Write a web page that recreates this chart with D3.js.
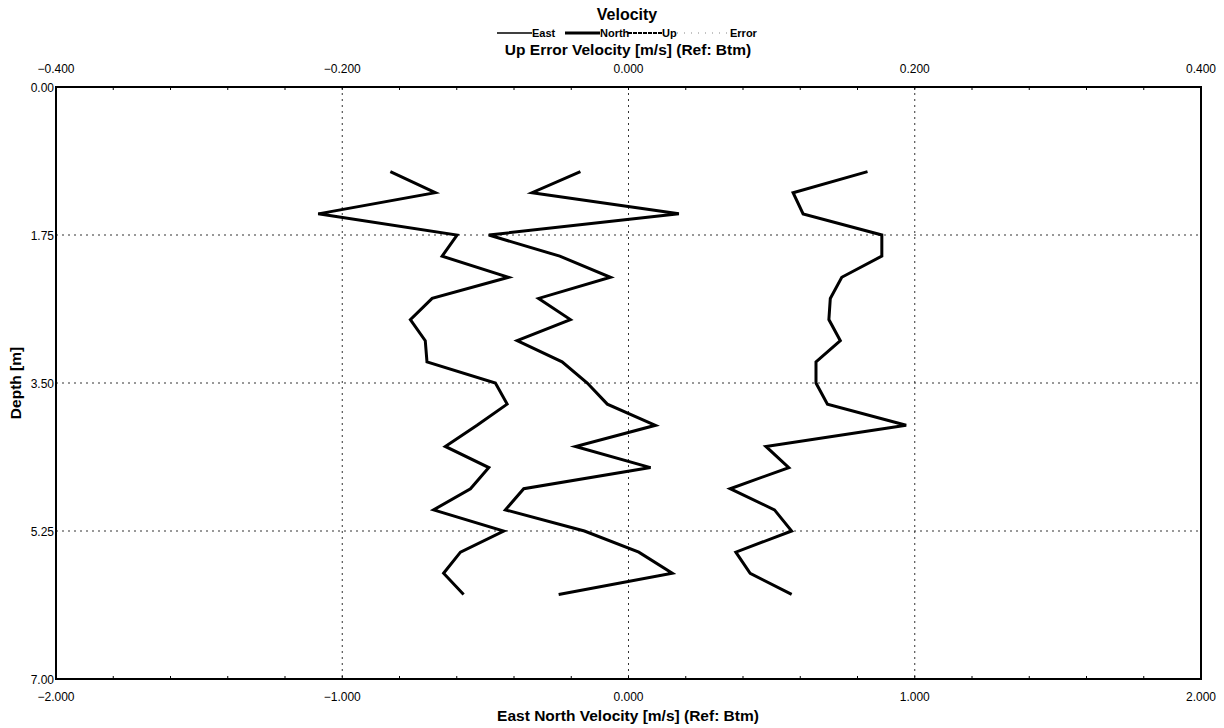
<!DOCTYPE html>
<html>
<head>
  <meta charset="utf-8">
  <title>Velocity profile</title>
  <script src="https://d3js.org/d3.v7.min.js"></script>
  <style>
    body { margin: 0; background: #fff; }
    text { font-family: "Liberation Sans", Arial, sans-serif; fill: #000; }
  </style>
</head>
<body>
  <svg width="1224" height="728"></svg>
  <script>
    // depth bins (m)
    const depths = [1.00, 1.25, 1.50, 1.75, 2.00, 2.25, 2.50, 2.75, 3.00, 3.25, 3.50,
                    3.75, 4.00, 4.25, 4.50, 4.75, 5.00, 5.25, 5.50, 5.75, 6.00];
    // East / North in m/s on bottom axis
    const east = [-0.832, -0.675, -1.084, -0.599, -0.651, -0.419, -0.686, -0.762, -0.710, -0.704, -0.465,
                  -0.424, -0.529, -0.640, -0.488, -0.552, -0.681, -0.436, -0.587, -0.646, -0.576];
    const north = [-0.168, -0.337, 0.176, -0.488, -0.240, -0.063, -0.314, -0.203, -0.389, -0.232, -0.144,
                   -0.074, 0.094, -0.185, 0.077, -0.366, -0.430, -0.154, 0.036, 0.153, -0.244];
    // Up in m/s on top axis
    const up = [0.167, 0.115, 0.122, 0.177, 0.177, 0.149, 0.141, 0.140, 0.148, 0.131, 0.131,
                0.139, 0.194, 0.096, 0.112, 0.071, 0.102, 0.114, 0.075, 0.085, 0.114];

    const bottomTicks = [-2, -1, 0, 1, 2];
    const topTicks = [-0.4, -0.2, 0, 0.2, 0.4];
    const depthTicks = [0, 1.75, 3.5, 5.25, 7];

    const legendItems = [
      { name: "East", width: 1.5, dash: null, color: "#000" },
      { name: "North", width: 3, dash: null, color: "#000" },
      { name: "Up", width: 2, dash: "4,1", color: "#000" },
      { name: "Error", width: 1.2, dash: "1,6", color: "#888" }
    ];

    const svg = d3.select("svg");
    const pLeft = 56, pRight = 1201, pTop = 87, pBottom = 679;

    const x = d3.scaleLinear().domain([-2, 2]).range([pLeft, pRight]);
    const xTop = d3.scaleLinear().domain([-0.4, 0.4]).range([pLeft, pRight]);
    const y = d3.scaleLinear().domain([0, 7]).range([pTop, pBottom]);

    // grid
    svg.append("g").selectAll("line")
      .data([-1, 0, 1])
      .enter().append("line")
      .attr("x1", d => x(d)).attr("x2", d => x(d))
      .attr("y1", pTop).attr("y2", pBottom)
      .attr("stroke", "#333").attr("stroke-width", 1)
      .attr("stroke-dasharray", "2,4");
    svg.append("g").selectAll("line")
      .data([1.75, 3.5, 5.25])
      .enter().append("line")
      .attr("x1", pLeft).attr("x2", pRight)
      .attr("y1", d => y(d)).attr("y2", d => y(d))
      .attr("stroke", "#333").attr("stroke-width", 1)
      .attr("stroke-dasharray", "2,4");

    // frame
    svg.append("rect")
      .attr("x", pLeft).attr("y", pTop)
      .attr("width", pRight - pLeft).attr("height", pBottom - pTop)
      .attr("fill", "none").attr("stroke", "#000").attr("stroke-width", 2);

    // minor ticks (inward)
    const minor = d3.range(-2, 2.001, 0.2);
    svg.append("g").selectAll("line")
      .data(minor)
      .enter().append("line")
      .attr("x1", d => x(d)).attr("x2", d => x(d))
      .attr("y1", pBottom).attr("y2", pBottom - 3)
      .attr("stroke", "#000");
    svg.append("g").selectAll("line")
      .data(minor)
      .enter().append("line")
      .attr("x1", d => x(d)).attr("x2", d => x(d))
      .attr("y1", pTop).attr("y2", pTop + 3)
      .attr("stroke", "#000");

    // tick labels
    svg.append("g").selectAll("text")
      .data(bottomTicks)
      .enter().append("text")
      .attr("x", d => x(d)).attr("y", 701)
      .attr("text-anchor", "middle")
      .style("font-size", "12px")
      .text(d => d3.format(".3f")(d));
    svg.append("g").selectAll("text")
      .data(topTicks)
      .enter().append("text")
      .attr("x", d => xTop(d)).attr("y", 73)
      .attr("text-anchor", "middle")
      .style("font-size", "12px")
      .text(d => d3.format(".3f")(d));
    svg.append("g").selectAll("text")
      .data(depthTicks)
      .enter().append("text")
      .attr("x", pLeft - 2).attr("y", d => y(d) + 5)
      .attr("text-anchor", "end")
      .style("font-size", "12px")
      .text(d => d3.format(".2f")(d));

    // axis titles
    svg.append("text")
      .attr("x", 628).attr("y", 721)
      .attr("text-anchor", "middle")
      .style("font-size", "15.5px").style("font-weight", "bold")
      .text("East North Velocity [m/s] (Ref: Btm)");
    svg.append("text")
      .attr("x", 628).attr("y", 55)
      .attr("text-anchor", "middle")
      .style("font-size", "15.5px").style("font-weight", "bold")
      .text("Up Error Velocity [m/s] (Ref: Btm)");
    svg.append("text")
      .attr("transform", "translate(21," + y(3.5) + ") rotate(-90)")
      .attr("text-anchor", "middle")
      .style("font-size", "15.5px").style("font-weight", "bold")
      .text("Depth [m]");

    // title
    svg.append("text")
      .attr("x", 627).attr("y", 20)
      .attr("text-anchor", "middle")
      .style("font-size", "16px").style("font-weight", "bold")
      .text("Velocity");

    // legend
    const legendX = [497, 565, 628, 677];
    const legendLen = [35, 35, 34, 50];
    const lg = svg.append("g").selectAll("g")
      .data(legendItems)
      .enter().append("g")
      .attr("transform", (d, i) => "translate(" + legendX[i] + ",37)");
    lg.append("line")
      .attr("x1", 0).attr("x2", (d, i) => legendLen[i]).attr("y1", -4).attr("y2", -4)
      .attr("stroke", d => d.color)
      .attr("stroke-width", d => d.width)
      .attr("stroke-dasharray", d => d.dash);
    lg.append("text")
      .attr("x", (d, i) => legendLen[i] + (i === 3 ? 3 : 0)).attr("y", 0)
      .style("font-size", "11px").style("font-weight", "bold")
      .text(d => d.name);

    // series
    const rows = depths.map((d, i) => ({ depth: d, east: east[i], north: north[i], up: up[i] }));
    const lineBottom = key => d3.line().x(d => x(d[key])).y(d => y(d.depth));
    const lineTop = d3.line().x(d => xTop(d.up)).y(d => y(d.depth));

    [["east", lineBottom("east")], ["north", lineBottom("north")], ["up", lineTop]].forEach(s => {
      svg.append("path")
        .datum(rows)
        .attr("d", s[1])
        .attr("fill", "none")
        .attr("stroke", "#000")
        .attr("stroke-width", 3)
        .attr("stroke-linejoin", "miter");
    });
  </script>
</body>
</html>
